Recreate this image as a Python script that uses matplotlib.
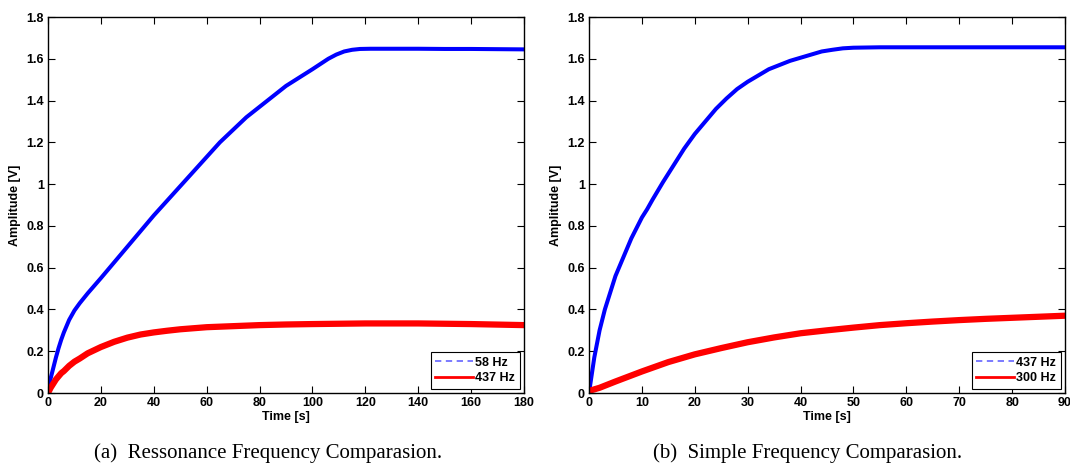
import matplotlib
matplotlib.use("Agg")
import matplotlib.pyplot as plt
from matplotlib.lines import Line2D
from matplotlib.ticker import FuncFormatter

# ---- data ----
# Panel (a): resonance frequency comparison
t_a_blue = [0, 1, 2, 3, 4, 5, 6, 8, 10, 12, 15, 20, 25, 30, 35, 40, 45, 50, 55, 60, 65, 70,
            75, 80, 85, 90, 95, 100, 103, 106, 109, 112, 115, 118, 122, 130, 140, 150, 160,
            170, 180]
v_a_blue = [0, 0.07, 0.12, 0.17, 0.215, 0.255, 0.29, 0.35, 0.395, 0.43, 0.477, 0.55, 0.625,
            0.70, 0.775, 0.85, 0.92, 0.99, 1.06, 1.13, 1.20, 1.26, 1.32, 1.37, 1.42, 1.47,
            1.51, 1.55, 1.575, 1.60, 1.62, 1.635, 1.643, 1.647, 1.648, 1.648, 1.648, 1.647,
            1.647, 1.646, 1.645]
t_a_red = [0, 1, 2, 3, 4, 5, 6, 8, 10, 12, 15, 20, 25, 30, 35, 40, 45, 50, 60, 70, 80, 90,
           100, 120, 140, 160, 180]
v_a_red = [0, 0.025, 0.045, 0.065, 0.08, 0.095, 0.105, 0.13, 0.15, 0.165, 0.19, 0.22, 0.245,
           0.265, 0.28, 0.29, 0.298, 0.305, 0.315, 0.32, 0.325, 0.328, 0.33, 0.333, 0.333,
           0.33, 0.325]

# Panel (b): simple frequency comparison
t_b_blue = [0, 1, 2, 3, 4, 5, 6, 7, 8, 9, 10, 11, 12, 14, 16, 18, 20, 22, 24, 26, 28, 30,
            32, 34, 36, 38, 40, 42, 44, 46, 48, 50, 55, 60, 70, 80, 90]
v_b_blue = [0, 0.17, 0.30, 0.40, 0.48, 0.56, 0.62, 0.68, 0.74, 0.79, 0.84, 0.88, 0.925, 1.01,
            1.09, 1.17, 1.24, 1.30, 1.36, 1.41, 1.455, 1.49, 1.52, 1.55, 1.57, 1.59, 1.605,
            1.62, 1.635, 1.643, 1.65, 1.653, 1.655, 1.655, 1.655, 1.655, 1.655]
t_b_red = [0, 2, 5, 10, 15, 20, 25, 30, 35, 40, 45, 50, 55, 60, 65, 70, 75, 80, 85, 90]
v_b_red = [0.01, 0.025, 0.055, 0.103, 0.148, 0.185, 0.215, 0.243, 0.266, 0.286, 0.30, 0.313,
           0.325, 0.334, 0.342, 0.349, 0.355, 0.36, 0.365, 0.37]

labels_a = ["58 Hz", "437 Hz"]
labels_b = ["437 Hz", "300 Hz"]
xticks_a = list(range(0, 181, 20))
xticks_b = list(range(0, 91, 10))
yticks = [0, 0.2, 0.4, 0.6, 0.8, 1.0, 1.2, 1.4, 1.6, 1.8]
captions = ["(a)  Ressonance Frequency Comparasion.", "(b)  Simple Frequency Comparasion."]

# ---- figure ----
W, H = 1070, 467
fig = plt.figure(figsize=(W / 100, H / 100), dpi=100)
sans = ["Liberation Sans", "DejaVu Sans"]
serif = ["Liberation Serif", "DejaVu Serif"]

axes_px = [(48, 17, 524, 393), (589, 17, 1065, 393)]
panels = [
    (t_a_blue, v_a_blue, t_a_red, v_a_red, labels_a, xticks_a, 180),
    (t_b_blue, v_b_blue, t_b_red, v_b_red, labels_b, xticks_b, 90),
]
cap_x = [268, 808]

for i, ((x0, y0, x1, y1), (tb, vb, tr, vr, labs, xt, xmax)) in enumerate(zip(axes_px, panels)):
    ax = fig.add_axes([x0 / W, (H - y1) / H, (x1 - x0) / W, (y1 - y0) / H])
    ax.plot(tb, vb, color="#0000ff", lw=2.9, solid_joinstyle="round")
    ax.plot(tr, vr, color="#ff0000", lw=4.5, solid_joinstyle="round")
    ax.set_xlim(0, xmax)
    ax.set_ylim(0, 1.8)
    ax.set_xticks(xt)
    ax.set_yticks(yticks)
    ax.yaxis.set_major_formatter(FuncFormatter(lambda v, p: f"{v:g}"))
    ax.tick_params(direction="in", length=5, width=0.8, top=True, right=True,
                   labelsize=9, pad=3)
    for lab in ax.get_xticklabels() + ax.get_yticklabels():
        lab.set_fontfamily(sans)
        lab.set_fontweight("bold")
    for s in ax.spines.values():
        s.set_linewidth(1.0)
    ax.set_xlabel("Time [s]", fontsize=9, fontweight="bold", family=sans, labelpad=1)
    ax.set_ylabel("Amplitude [V]", fontsize=9, fontweight="bold", family=sans, labelpad=4)

    handles = [Line2D([], [], color="#7070ff", lw=1.3, ls=(0, (3.5, 2.5))),
               Line2D([], [], color="#ff0000", lw=2.0)]
    leg = ax.legend(handles, labs, loc="lower right", fancybox=False, framealpha=1,
                    edgecolor="black", borderpad=0.35, handlelength=3.0, handletextpad=0.2,
                    labelspacing=0.3, borderaxespad=0.35,
                    prop={"family": sans, "weight": "bold", "size": 9})
    leg.get_frame().set_linewidth(0.8)

    fig.text(cap_x[i] / W, 1 - 453 / H, captions[i], ha="center", va="center",
             fontsize=15, family=serif)

fig.savefig("out.png", dpi=100)
